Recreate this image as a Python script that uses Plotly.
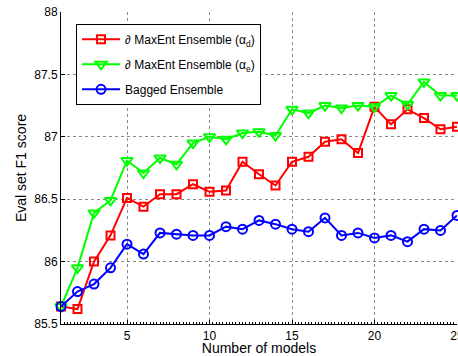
import plotly.graph_objects as go

models = list(range(1, 26))
maxent_d = [85.64, 85.62, 86.00, 86.21, 86.51, 86.44, 86.54, 86.54, 86.62, 86.56,
            86.57, 86.80, 86.70, 86.61, 86.80, 86.84, 86.96, 86.98, 86.87, 87.24,
            87.10, 87.22, 87.15, 87.06, 87.08]
maxent_e = [85.64, 85.95, 86.39, 86.49, 86.81, 86.71, 86.83, 86.78, 86.95, 87.00,
            86.98, 87.03, 87.04, 87.01, 87.22, 87.19, 87.25, 87.23, 87.25, 87.24,
            87.33, 87.26, 87.44, 87.33, 87.33]
bagged = [85.64, 85.76, 85.82, 85.95, 86.14, 86.06, 86.23, 86.22, 86.21, 86.21,
          86.28, 86.26, 86.33, 86.30, 86.26, 86.24, 86.35, 86.21, 86.23, 86.19,
          86.21, 86.16, 86.26, 86.25, 86.37]

names = ["∂ MaxEnt Ensemble (α<sub>d</sub>)",
         "∂ MaxEnt Ensemble (α<sub>e</sub>)",
         "Bagged Ensemble"]
colors = ["#ff0000", "#00ff00", "#0000ff"]
symbols = ["square-open", "triangle-down-open", "circle-open"]
sizes = [8, 10, 9]
series = [maxent_d, maxent_e, bagged]

fig = go.Figure()
for i, (ys, nm, c, s, sz) in enumerate(zip(series, names, colors, symbols, sizes)):
    fig.add_trace(go.Scatter(
        x=models, y=ys, name=nm, mode="lines+markers",
        line=dict(color=c, width=2),
        marker=dict(symbol=s, size=sz, color=c, line=dict(color=c, width=2)),
        legendgroup="g%d" % i,
        cliponaxis=False,
    ))

font = dict(family="Liberation Sans, Arial, sans-serif", size=12, color="black")
fig.update_layout(
    width=458, height=356,
    margin=dict(l=61, r=1, t=12, b=32),
    paper_bgcolor="white", plot_bgcolor="white",
    font=font,
    showlegend=True,
    legend=dict(x=0.038, y=0.962, xanchor="left", yanchor="top",
                bordercolor="black", borderwidth=1, bgcolor="white",
                font=dict(family=font["family"], size=12, color="black"),
                traceorder="grouped", tracegroupgap=6, itemwidth=38,
                entrywidth=110, entrywidthmode="pixels"),
)
fig.update_xaxes(
    range=[1, 25], tickvals=[5, 10, 15, 20, 25], ticks="inside", ticklen=4,
    tickcolor="black", showline=True, linecolor="black", linewidth=1,
    showgrid=True, gridcolor="#888888", griddash="dot", gridwidth=1,
    zeroline=False, automargin=False, ticklabelstandoff=1,
    ticklabeloverflow="allow",
    minor=dict(dtick=0.2, ticks="inside", ticklen=2, tickcolor="black", showgrid=False),
    title=dict(text="Number of models", standoff=5),
)
fig.update_yaxes(
    range=[85.5, 88], tickvals=[85.5, 86, 86.5, 87, 87.5, 88],
    ticktext=["85.5", "86", "86.5", "87", "87.5", "88"],
    ticks="inside", ticklen=4, tickcolor="black",
    showline=True, linecolor="black", linewidth=1,
    showgrid=True, gridcolor="#888888", griddash="dot", gridwidth=1,
    zeroline=False, automargin=False,
    title=dict(text="Eval set F1 score", standoff=4),
)
fig.write_html(
    "out.html",
    config={"displayModeBar": False},
    post_script="document.body.style.margin='0';document.body.style.overflow='hidden';",
)
